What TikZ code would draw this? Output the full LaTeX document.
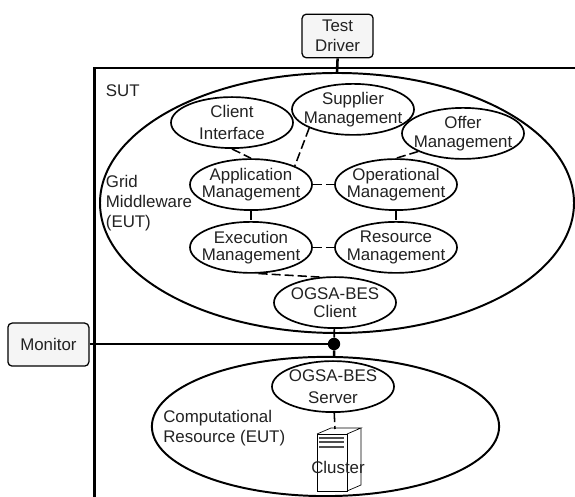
\documentclass[tikz,border=0pt]{standalone}
\usepackage{fontspec}
\setmainfont{Liberation Sans}
\usepackage{tikz}
\usetikzlibrary{shapes.geometric}
\definecolor{inkgray}{HTML}{222222}
\definecolor{boxgray}{HTML}{F5F5F5}

\begin{document}
\begin{tikzpicture}[
	txt/.style={text=inkgray,font=\fontsize{12}{14.2}\selectfont,align=center,inner sep=0pt},
	comp/.style={txt,ellipse,draw=black,line width=1.2pt,inner xsep=-6pt,inner ysep=-4pt,minimum width=3.05cm,minimum height=1.275cm},
	env/.style={ellipse,draw=black,line width=1.4pt,inner sep=0pt},
	tool/.style={txt,draw=black,fill=boxgray,rounded corners=3pt,line width=0.9pt},
	lab/.style={txt,anchor=west,align=left},
	link/.style={line width=1.1pt,dash pattern=on 6.5pt off 2.8pt},
	bus/.style={line width=1.8pt}
]
\useasboundingbox (0,0) rectangle (14.375,12.425);

\def\leftx{2.365};  % left edge of the SUT frame
\def\topy{10.725};  % top edge of the SUT frame
\draw[line width=1.8pt] (14.375,\topy) -- (\leftx,\topy) -- (\leftx,0);

% the two environments
\node[env,minimum width=11.85cm,minimum height=6.5cm] (grid) at (8.425,7.35) {};
\node[env,minimum width=8.68cm,minimum height=3.48cm] (res) at (8.1375,1.7625) {};

% tools outside the frame
\node[tool,minimum width=1.775cm,minimum height=1.09cm] (driver) at (8.44,11.525) {Test\\Driver};
\node[tool,minimum width=2.025cm,minimum height=1.075cm] (monitor) at (1.21,3.81) {Monitor};

% middleware components
\node[comp] (client) at (5.8,9.36) {Client\\[1pt]Interface};
\node[comp] (supplier) at (8.825,9.69) {Supplier\\[-1pt]Management};
\node[comp] (offer) at (11.575,9.09) {Offer\\[-1pt]Management};
\node[comp] (application) at (6.275,7.81) {Application\\[-2pt]Management};
\node[comp] (operational) at (9.9,7.81) {Operational\\[-2pt]Management};
\node[comp] (execution) at (6.275,6.24) {Execution\\[-2pt]Management};
\node[comp] (resource) at (9.9,6.24) {Resource\\[-2pt]Management};
\node[comp] (besclient) at (8.375,4.86) {OGSA-BES\\[-1pt]Client};
\node[comp] (besserver) at (8.325,2.76) {OGSA-BES\\[1pt]Server};

% labels
\node[lab] (sut) at (2.64,10.15) {SUT};
\node[lab] (gridlab) at (2.64,7.34) {Grid\\Middleware\\(EUT)};
\node[lab] (reslab) at (4.075,1.72) {Computational\\Resource (EUT)};

% the server box
\draw[line width=0.5pt] (7.925,0.15) rectangle (8.675,1.575);
\draw[line width=0.5pt] (7.925,1.575) -- (8.275,1.725) -- (9.025,1.725) -- (8.675,1.575);
\draw[line width=0.5pt] (9.025,1.725) -- (9.025,0.3) -- (8.675,0.15);
\foreach \y in {1.475,1.375,1.25} {
	\draw[line width=1.2pt,color=inkgray!80] (7.975,\y) -- (8.6,\y);
}
\coordinate (clustertop) at (8.375,1.7);
\node[txt] (cluster) at (8.45,0.75) {Cluster};

% bus and probe point
\node[circle,fill=black,inner sep=0pt,minimum size=0.31cm] (probe) at (8.35,3.825) {};
\draw[bus] (driver.south) -- (grid.north);
\draw[bus] (monitor.east |- probe) -- (probe);
\draw[bus,line width=1.2pt] (besclient) -- (probe);
\draw[bus] (probe) -- (res.83);

% links between components
\draw[link] (client.south) -- (application.north);
\draw[link] (supplier.203) -- (application.23);
\draw[link] (offer.202) -- (operational.north);
\draw[link] (application) -- (operational);
\draw[link] (execution) -- (resource);
\draw[link] (application) -- (execution);
\draw[link] (operational) -- (resource);
\draw[link] (execution.286) -- (besclient.121);
\draw[link] (besserver) -- (clustertop);
\end{tikzpicture}
\end{document}
